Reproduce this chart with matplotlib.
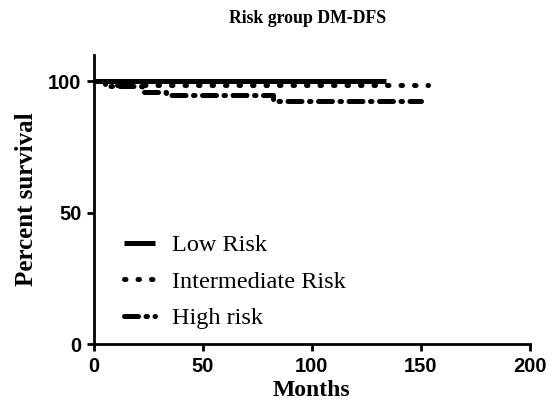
import matplotlib
matplotlib.use("Agg")
import matplotlib.pyplot as plt

low_t = [0, 134]
low_s = [100, 100]
int_t = [0, 8, 153]
int_s = [100, 98.7, 98.7]
high_t = [0, 5, 22, 33, 82, 150]
high_s = [100, 98, 96, 94.8, 92.3, 92.3]
labels = ["Low Risk", "Intermediate Risk", "High risk"]
xticks = [0, 50, 100, 150, 200]
yticks = [0, 50, 100]

fig = plt.figure(figsize=(5.55, 4.13), dpi=100)
ax = fig.add_axes([0.169, 0.167, 0.786, 0.70])

ax.step(low_t, low_s, where="post", color="black", lw=3.6, label=labels[0],
        solid_capstyle="butt")
ax.step(int_t, int_s, where="post", color="black", lw=3.6, label=labels[1],
        linestyle=(0, (0.3, 2.4)), dash_capstyle="round")
ax.step(high_t, high_s, where="post", color="black", lw=3.6, label=labels[2],
        linestyle=(0, (2.8, 1.5, 0.3, 1.5)), dash_capstyle="round")

ax.set_xlim(0, 200)
ax.set_ylim(0, 110)
ax.set_xticks(xticks)
ax.set_yticks(yticks)
for s in ["top", "right"]:
    ax.spines[s].set_visible(False)
for s in ["left", "bottom"]:
    ax.spines[s].set_linewidth(2)
ax.spines["left"].set_bounds(0, 110)
ax.tick_params(width=2, length=5, direction="out", pad=4)
for lab in ax.get_xticklabels() + ax.get_yticklabels():
    lab.set_fontfamily("Liberation Sans")
    lab.set_fontweight("bold")
    lab.set_fontsize(14.5)

serif = "Liberation Serif"
ax.set_xlabel("Months", fontfamily=serif, fontweight="bold", fontsize=17, labelpad=3)
ax.set_ylabel("Percent survival", fontfamily=serif, fontweight="bold", fontsize=18, labelpad=7)
fig.text(0.555, 0.955, "Risk group DM-DFS", fontfamily=serif, fontweight="bold",
         fontsize=12.8, ha="center", va="center")

leg = ax.legend(loc="lower left", bbox_to_anchor=(0.018, -0.025), frameon=False,
                prop={"family": serif, "size": 17.5}, handlelength=1.3,
                handletextpad=0.7, labelspacing=0.6)

fig.savefig("out.png", dpi=100)
